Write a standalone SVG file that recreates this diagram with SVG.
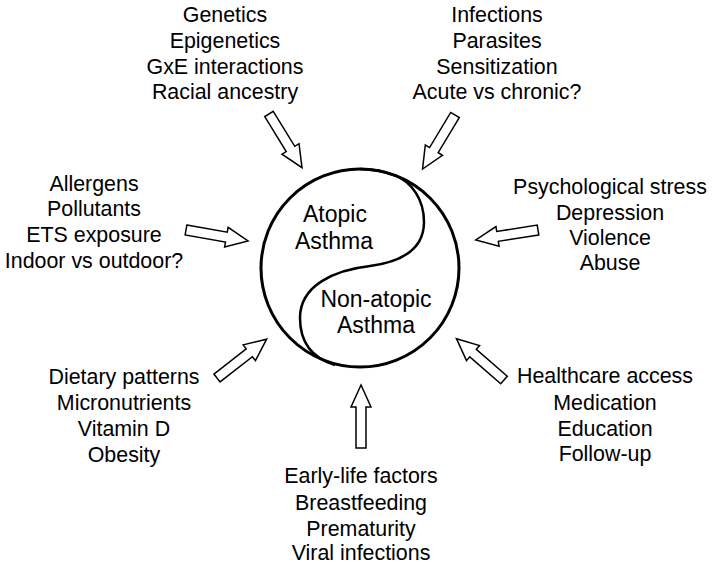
<svg xmlns="http://www.w3.org/2000/svg" width="714" height="570" viewBox="0 0 714 570">
<defs>
<style>
text{font-family:"Liberation Sans",Arial,sans-serif;fill:#000;text-anchor:middle}
.f{font-size:21.4px}
.c{font-size:23px}
.arr{fill:#fff;stroke:#000;stroke-width:1.5;stroke-linejoin:miter}
</style>
<polygon id="blk" points="0,-5 41,-5 41,-10 63,0 41,10 41,5 0,5"/>
</defs>
<rect width="714" height="570" fill="#fff"/>
<g id="center">
<circle cx="360" cy="268" r="99" fill="#fff" stroke="#000" stroke-width="3"/>
<path d="M 360,169 A 99 99 0 0 1 395,175.4 C 412,182 424,200 424,222 C 424,250 400,262 370,266 C 335,270 300,285 300,318 C 300,342 312,358 335,365" fill="none" stroke="#000" stroke-width="2.5"/>
<text class="c" x="335" y="222">Atopic</text>
<text class="c" x="334" y="249">Asthma</text>
<text class="c" x="376" y="307">Non-atopic</text>
<text class="c" x="376" y="333">Asthma</text>
</g>
<g id="genetics" class="f">
<text x="225" y="22">Genetics</text>
<text x="225" y="48">Epigenetics</text>
<text x="225" y="73.5">GxE interactions</text>
<text x="225" y="99">Racial ancestry</text>
</g>
<g id="infections" class="f">
<text x="497" y="22">Infections</text>
<text x="497" y="48">Parasites</text>
<text x="497" y="73.5">Sensitization</text>
<text x="497" y="99">Acute vs chronic?</text>
</g>
<g id="allergens" class="f">
<text x="94" y="191">Allergens</text>
<text x="94" y="216">Pollutants</text>
<text x="94" y="242">ETS exposure</text>
<text x="94" y="268">Indoor vs outdoor?</text>
</g>
<g id="stress" class="f">
<text x="610" y="194">Psychological stress</text>
<text x="610" y="220">Depression</text>
<text x="610" y="245">Violence</text>
<text x="610" y="270">Abuse</text>
</g>
<g id="diet" class="f">
<text x="124" y="384">Dietary patterns</text>
<text x="124" y="410">Micronutrients</text>
<text x="124" y="436">Vitamin D</text>
<text x="124" y="462">Obesity</text>
</g>
<g id="healthcare" class="f">
<text x="605" y="383">Healthcare access</text>
<text x="605" y="410">Medication</text>
<text x="605" y="436">Education</text>
<text x="605" y="461">Follow-up</text>
</g>
<g id="earlylife" class="f">
<text x="361" y="483">Early-life factors</text>
<text x="361" y="510">Breastfeeding</text>
<text x="361" y="536">Prematurity</text>
<text x="361" y="560">Viral infections</text>
</g>
<g id="connectors">
<use href="#blk" class="arr" transform="translate(269,114) rotate(58.4)"/>
<use href="#blk" class="arr" transform="translate(455,115) rotate(121)"/>
<use href="#blk" class="arr" transform="translate(186,230) rotate(10)"/>
<use href="#blk" class="arr" transform="translate(538,230) rotate(171)"/>
<use href="#blk" class="arr" transform="translate(217,378) rotate(-38)"/>
<use href="#blk" class="arr" transform="translate(504,380) rotate(-139)"/>
<use href="#blk" class="arr" transform="translate(361,448) rotate(-90)"/>
</g>
</svg>
